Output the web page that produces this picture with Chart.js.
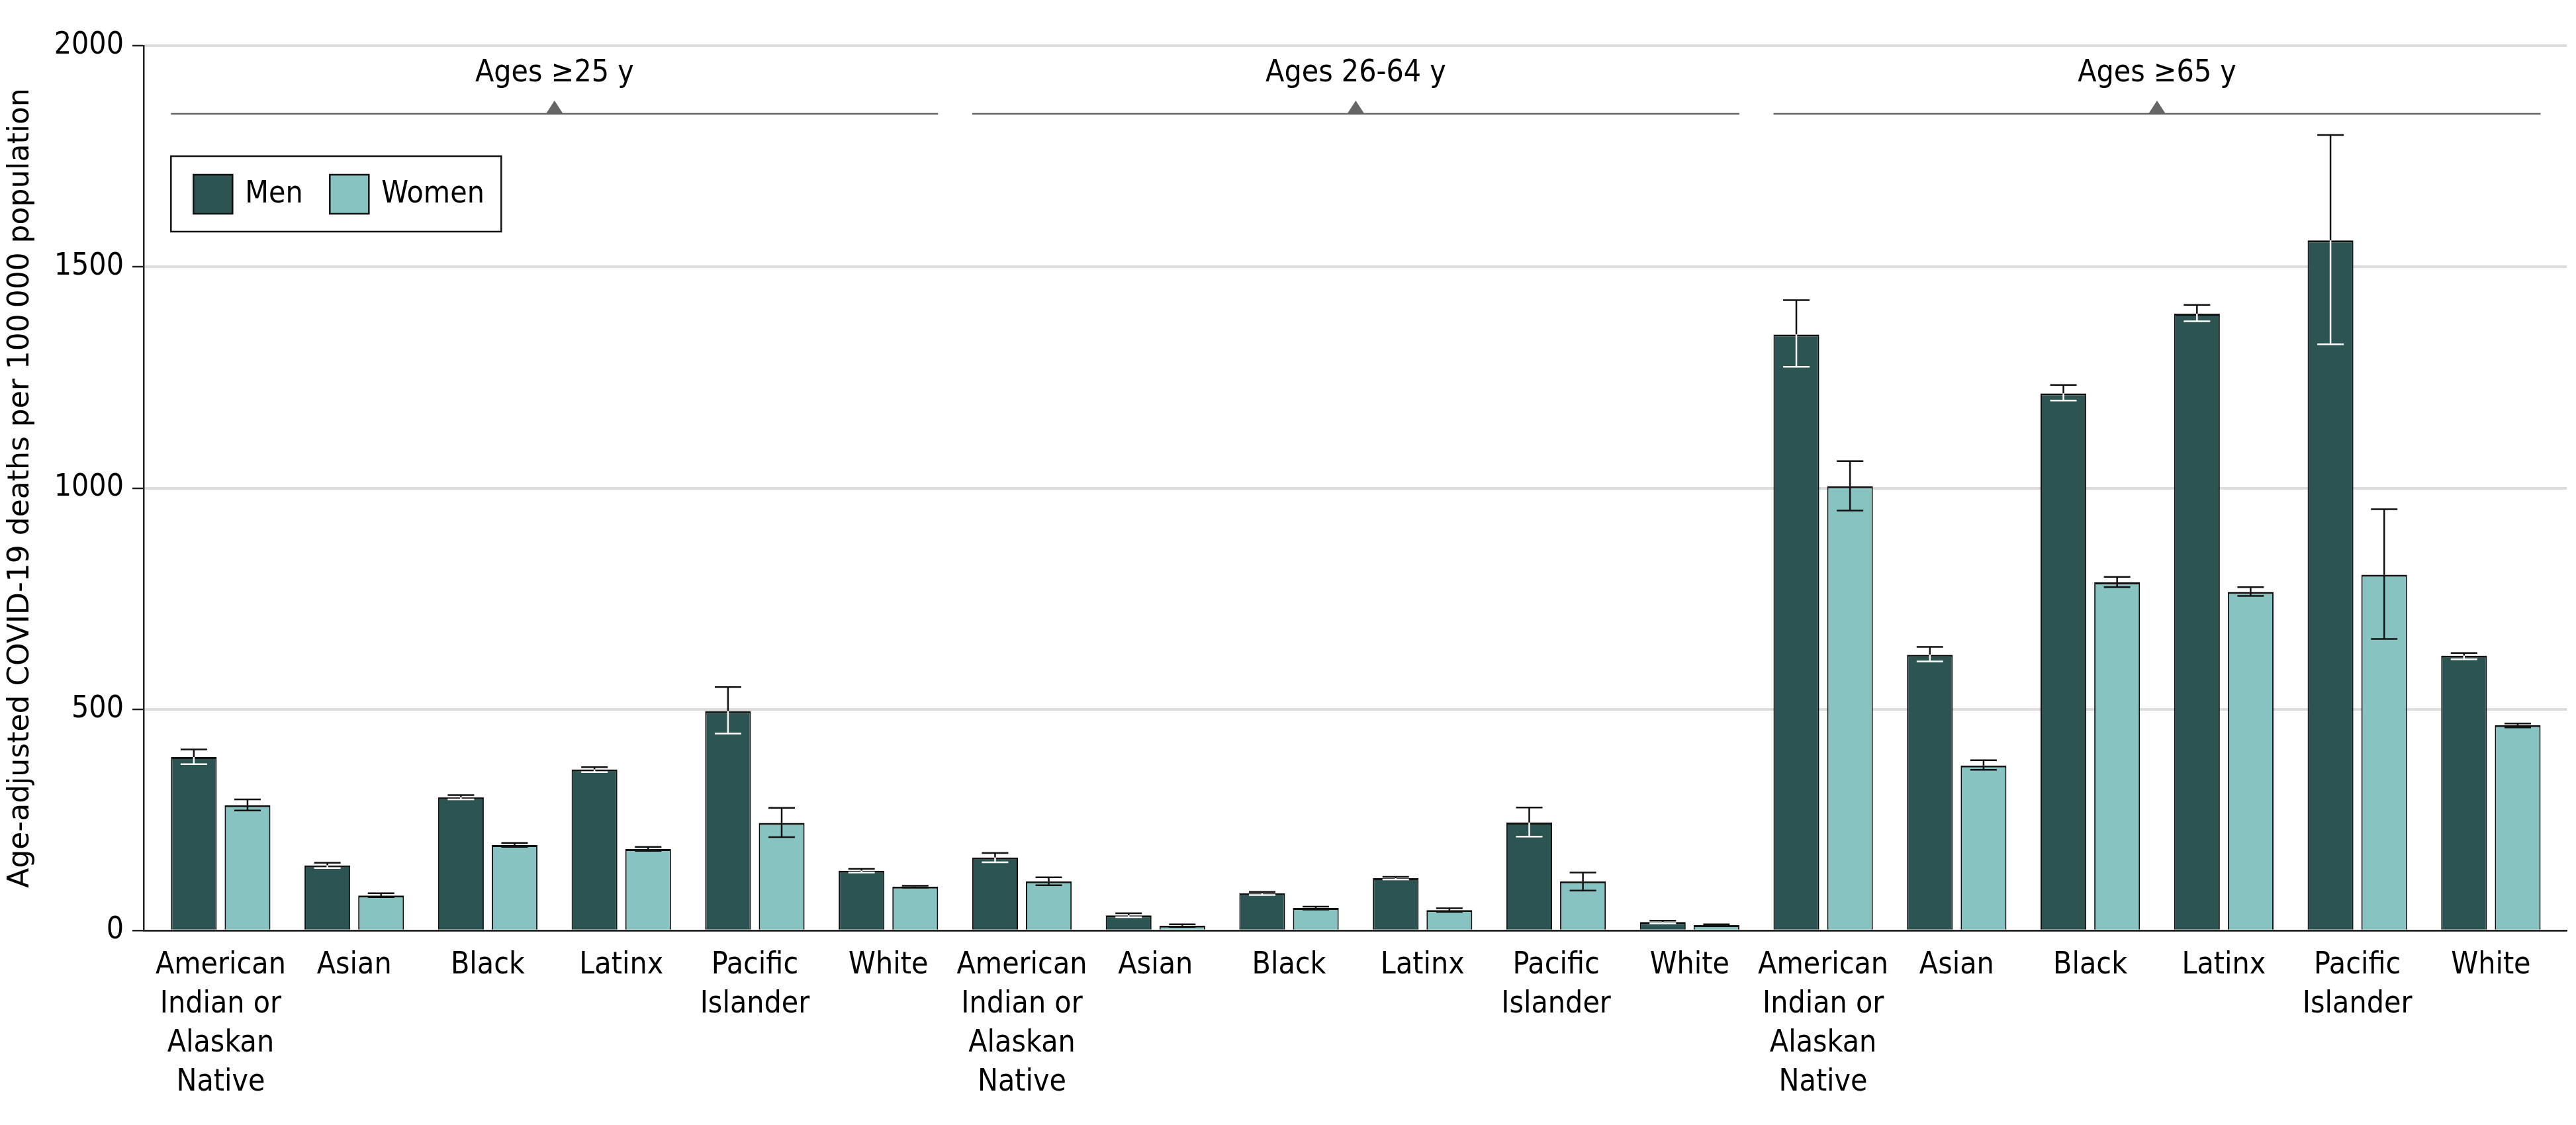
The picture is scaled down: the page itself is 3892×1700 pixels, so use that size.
<!DOCTYPE html>
<html lang="en">
<head>
    <meta charset="UTF-8">
    <title>Age-adjusted COVID-19 deaths</title>
    <script src="https://cdn.jsdelivr.net/npm/chart.js@4.4.1/dist/chart.umd.min.js"></script>
    <style>
        body { margin: 0; background: #fff; }
        #wrap { width: 3892px; height: 1700px; }
    </style>
</head>
<body>
    <div id="wrap"><canvas id="deathsChart" width="3892" height="1700"></canvas></div>

    <script>
        // age groups and the race labels repeated in each group
        const groups = ['Ages ≥25 y', 'Ages 26-64 y', 'Ages ≥65 y'];
        const races = [
            ['American', 'Indian or', 'Alaskan', 'Native'],
            ['Asian'], ['Black'], ['Latinx'], ['Pacific', 'Islander'], ['White']
        ];

        // deaths per 100 000, 6 races x 3 age groups
        const men = [392, 147, 301, 364, 496, 135,  165, 34, 84, 118, 244, 19,  1347, 623, 1214, 1394, 1560, 621];
        const women = [283, 79, 193, 184, 243, 99,  111, 11, 51, 46, 111, 12,  1004, 373, 787, 765, 804, 464];

        // 95% CI
        const menLow = [376, 141, 296, 358, 445, 131,  154, 30, 80, 115, 212, 16,  1274, 608, 1198, 1377, 1325, 613];
        const menHigh = [409, 153, 306, 369, 550, 139,  175, 39, 87, 121, 278, 22,  1425, 641, 1233, 1414, 1798, 627];
        const womenLow = [271, 75, 189, 180, 211, 97,  102, 8, 47, 42, 90, 10,  949, 363, 776, 756, 659, 459];
        const womenHigh = [296, 84, 198, 189, 277, 101,  120, 14, 54, 50, 131, 14,  1061, 385, 799, 776, 952, 468];

        const yTicks = [0, 500, 1000, 1500, 2000];

        const MEN_COLOR = '#2b5453';
        const WOMEN_COLOR = '#86c3c1';
        const condensed = "'DejaVu Sans Condensed', 'Liberation Sans Narrow', sans-serif";
        const FONT_SIZE = 46;

        const toPoints = arr => arr.map((v, i) => ({ x: i, y: v }));

        // error bars: for men the part inside the dark bar is white
        const errorBars = {
            id: 'errorBars',
            afterDatasetsDraw(chart) {
                const ctx = chart.ctx;
                const y = chart.scales.y;
                const sets = [[menLow, menHigh, '#ffffff'], [womenLow, womenHigh, '#111111']];
                sets.forEach((s, di) => {
                    const meta = chart.getDatasetMeta(di);
                    meta.data.forEach((bar, i) => {
                        const yLo = y.getPixelForValue(s[0][i]);
                        const yHi = y.getPixelForValue(s[1][i]);
                        ctx.save();
                        ctx.lineWidth = 2.5;
                        // upper half, always black
                        ctx.strokeStyle = '#111111';
                        ctx.beginPath();
                        ctx.moveTo(bar.x, bar.y);
                        ctx.lineTo(bar.x, yHi);
                        ctx.moveTo(bar.x - 20, yHi);
                        ctx.lineTo(bar.x + 20, yHi);
                        ctx.stroke();
                        // lower half
                        ctx.strokeStyle = s[2];
                        ctx.beginPath();
                        ctx.moveTo(bar.x, bar.y);
                        ctx.lineTo(bar.x, yLo);
                        ctx.moveTo(bar.x - 20, yLo);
                        ctx.lineTo(bar.x + 20, yLo);
                        ctx.stroke();
                        ctx.restore();
                    });
                });
            }
        };

        // group brackets above the bars + boxed legend
        const decorations = {
            id: 'decorations',
            afterDraw(chart) {
                const ctx = chart.ctx;
                const top = chart.chartArea.top;
                const menBars = chart.getDatasetMeta(0).data;
                const womenBars = chart.getDatasetMeta(1).data;
                ctx.save();
                groups.forEach((g, gi) => {
                    const first = menBars[gi * 6];
                    const last = womenBars[gi * 6 + 5];
                    const x0 = first.x - first.width / 2;
                    const x1 = last.x + last.width / 2;
                    const cx = (x0 + x1) / 2;
                    const lineY = top + 103;
                    ctx.strokeStyle = '#666666';
                    ctx.lineWidth = 2.5;
                    ctx.beginPath();
                    ctx.moveTo(x0, lineY);
                    ctx.lineTo(x1, lineY);
                    ctx.stroke();
                    ctx.fillStyle = '#666666';
                    ctx.beginPath();
                    ctx.moveTo(cx - 13, lineY);
                    ctx.lineTo(cx + 13, lineY);
                    ctx.lineTo(cx, lineY - 20);
                    ctx.closePath();
                    ctx.fill();
                    ctx.fillStyle = '#000';
                    ctx.font = FONT_SIZE + 'px ' + condensed;
                    ctx.textAlign = 'center';
                    ctx.textBaseline = 'middle';
                    ctx.fillText(g, cx, top + 42);
                });

                // legend
                const lx = menBars[0].x - menBars[0].width / 2;
                const ly = top + 167;
                ctx.strokeStyle = '#111';
                ctx.lineWidth = 2.5;
                ctx.strokeRect(lx, ly, 499, 114);
                chart.data.datasets.forEach((ds, i) => {
                    const sx = lx + 34 + i * 206;
                    ctx.fillStyle = ds.backgroundColor;
                    ctx.fillRect(sx, ly + 28, 59, 59);
                    ctx.lineWidth = 2.5;
                    ctx.strokeRect(sx, ly + 28, 59, 59);
                    ctx.fillStyle = '#000';
                    ctx.font = FONT_SIZE + 'px ' + condensed;
                    ctx.textAlign = 'left';
                    ctx.textBaseline = 'middle';
                    ctx.fillText(ds.label, sx + 78, ly + 58);
                });
                ctx.restore();
            }
        };

        const ctx = document.getElementById('deathsChart').getContext('2d');
        new Chart(ctx, {
            type: 'bar',
            data: {
                datasets: [
                    {
                        label: 'Men',
                        data: toPoints(men),
                        backgroundColor: MEN_COLOR,
                        borderColor: '#111111',
                        borderWidth: { top: 3, left: 2, right: 2, bottom: 0 },
                        borderSkipped: false
                    },
                    {
                        label: 'Women',
                        data: toPoints(women),
                        backgroundColor: WOMEN_COLOR,
                        borderColor: '#111111',
                        borderWidth: { top: 3, left: 2, right: 2, bottom: 0 },
                        borderSkipped: false
                    }
                ]
            },
            options: {
                responsive: false,
                animation: false,
                devicePixelRatio: 1,
                datasets: {
                    bar: { categoryPercentage: 0.804, barPercentage: 0.852 }
                },
                layout: { padding: { top: 69, right: 14, left: 0, bottom: 0 } },
                plugins: {
                    legend: { display: false },
                    tooltip: { enabled: false }
                },
                scales: {
                    x: {
                        type: 'linear',
                        offset: false,
                        min: -0.577,
                        max: 17.568,
                        grid: { display: false, drawTicks: false },
                        border: { display: true, color: '#222', width: 2.5 },
                        afterFit: scale => { scale.height = 294; },
                        ticks: {
                            stepSize: 1,
                            includeBounds: false,
                            maxTicksLimit: 30,
                            autoSkip: false,
                            maxRotation: 0,
                            minRotation: 0,
                            padding: 24,
                            color: '#000',
                            font: { family: condensed, size: FONT_SIZE, lineHeight: 1.28 },
                            callback: value => (Number.isInteger(value) && value >= 0 && value < 18) ? races[value % 6] : ''
                        }
                    },
                    y: {
                        min: 0,
                        max: 2000,
                        afterFit: scale => { scale.width = 217; },
                        afterBuildTicks: scale => { scale.ticks = yTicks.map(v => ({ value: v })); },
                        border: { display: true, color: '#222', width: 2.5 },
                        grid: {
                            color: c => c.tick && c.tick.value === 0 ? '#222' : '#dcdcdc',
                            lineWidth: c => c.tick && c.tick.value === 0 ? 2.5 : 4,
                            tickColor: '#222',
                            tickWidth: 2.5,
                            tickLength: 17
                        },
                        ticks: {
                            padding: 13,
                            color: '#000',
                            font: { family: condensed, size: FONT_SIZE },
                            callback: v => String(v)
                        },
                        title: {
                            display: true,
                            text: 'Age-adjusted COVID-19 deaths per 100\u2009000 population',
                            color: '#000',
                            padding: { top: 5, bottom: 0 },
                            font: { family: "'DejaVu Sans', sans-serif", size: 44, lineHeight: 1.2 }
                        }
                    }
                }
            },
            plugins: [errorBars, decorations]
        });
    </script>
</body>
</html>
